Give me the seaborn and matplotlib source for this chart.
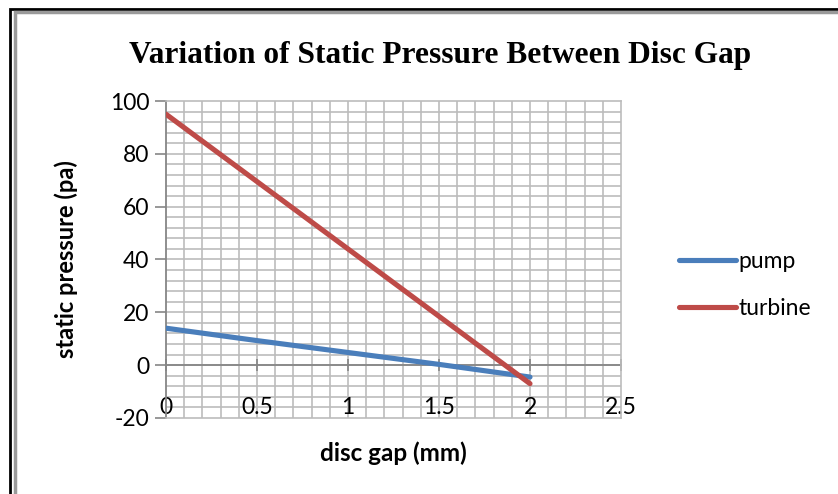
import numpy as np
import pandas as pd
import seaborn as sns
import matplotlib.pyplot as plt
from matplotlib.lines import Line2D
from matplotlib.patches import Rectangle

# Static pressure across the disc gap
disc_gap = [0.0, 0.5, 1.0, 1.5, 2.0]
pump = [14.0, 9.3, 4.8, 0.3, -4.5]
turbine = [95.0, 69.5, 44.0, 18.5, -7.0]
series_names = ["pump", "turbine"]
series_colors = ["#4a7ebb", "#be4b48"]
x_ticks = [0, 0.5, 1, 1.5, 2, 2.5]
x_tick_labels = ["0", "0.5", "1", "1.5", "2", "2.5"]
y_ticks = [-20, 0, 20, 40, 60, 80, 100]

df = pd.DataFrame({
    "disc gap (mm)": disc_gap * 2,
    "static pressure (pa)": pump + turbine,
    "series": ["pump"] * len(disc_gap) + ["turbine"] * len(disc_gap),
})

sns.set_theme(style="white")
plt.rcParams["font.family"] = ["Lato", "DejaVu Sans"]
plt.rcParams["text.color"] = "black"
plt.rcParams["axes.labelcolor"] = "black"
plt.rcParams["xtick.color"] = "black"
plt.rcParams["ytick.color"] = "black"

fig = plt.figure(figsize=(8.38, 4.94), dpi=100)
ax = fig.add_axes([166 / 838, 1 - 418 / 494, (621 - 166) / 838, (418 - 101) / 494])

# outer frame: black outer rule, grey inner rule
fig.patches.append(Rectangle((10 / 838, -0.1), 1.2, 1 - 9 / 494 + 0.1,
                             transform=fig.transFigure, fill=False,
                             edgecolor="black", linewidth=2.0))
fig.patches.append(Rectangle((14.5 / 838, -0.1), 1.2, 1 - 12 / 494 + 0.1,
                             transform=fig.transFigure, fill=False,
                             edgecolor="#9a9a9a", linewidth=2.5))

# fine grid
ax.set_xlim(0, 2.5)
ax.set_ylim(-20, 100)
for gx in np.arange(0.1, 2.5, 0.1):
    ax.axvline(gx, color="#bcbcbc", linewidth=1.2, zorder=0)
for gy in np.arange(-16, 100, 4):
    ax.axhline(gy, color="#bcbcbc", linewidth=1.2, zorder=0)

sns.lineplot(data=df, x="disc gap (mm)", y="static pressure (pa)", hue="series",
             hue_order=series_names, palette=series_colors, linewidth=3.7,
             ax=ax, legend=False, zorder=3, solid_capstyle="round")

for side in ["top", "right", "bottom"]:
    ax.spines[side].set_color("#bcbcbc")
    ax.spines[side].set_linewidth(1.2)
ax.spines["left"].set_color("#868686")
ax.spines["left"].set_linewidth(1.3)

ax.set_yticks(y_ticks)
ax.set_yticklabels([str(v) for v in y_ticks], fontsize=16.5)
ax.tick_params(axis="y", length=8, width=1.2, color="#868686", pad=4, left=True)

# x tick labels sit inside the plot at the bottom edge
ax.set_xticks(x_ticks)
ax.set_xticklabels(x_tick_labels, fontsize=16.5)
ax.tick_params(axis="x", length=0, pad=-15, bottom=True)

# horizontal axis line crossing at zero
sec = ax.secondary_xaxis(0, transform=ax.transData)
sec.set_xticks(x_ticks)
sec.set_xticklabels([])
sec.spines["bottom"].set_color("#868686")
sec.spines["bottom"].set_linewidth(1.3)
sec.tick_params(axis="x", direction="inout", length=8, width=1.2, color="#868686")

ax.set_xlabel("disc gap (mm)", fontsize=17.5, fontweight="bold", labelpad=17)
ax.set_ylabel("static pressure (pa)", fontsize=17, fontweight="bold", labelpad=23)

fig.text(440 / 838, 1 - 56 / 494, "Variation of Static Pressure Between Disc Gap",
         ha="center", va="center", fontsize=22.6, fontweight="bold",
         family="Liberation Serif")

handles = [Line2D([], [], color=c, linewidth=3.7, solid_capstyle="round") for c in series_colors]
fig.legend(handles, series_names, loc="center left",
           bbox_to_anchor=(658 / 838, 1 - 285 / 494), frameon=False,
           fontsize=16.5, handlelength=2.5, handletextpad=0.1, labelspacing=1.15)

fig.savefig("out.png", dpi=100)
